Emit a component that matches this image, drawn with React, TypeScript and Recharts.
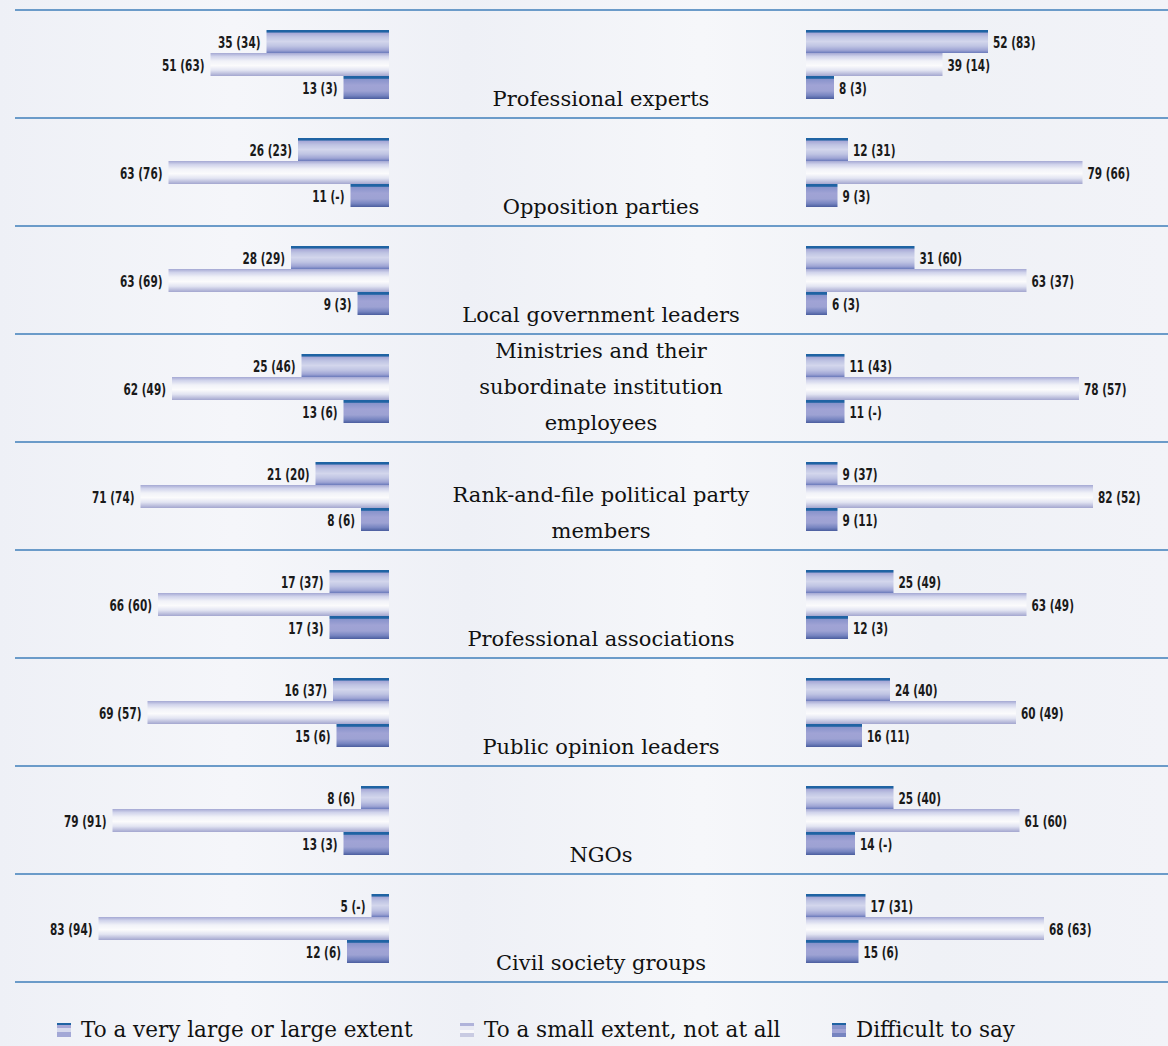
import React from 'react';
import { BarChart, Bar, XAxis, YAxis, LabelList } from 'recharts';

// groups, top to bottom (\n = line break in the centre label)
const groups = [
  'Professional experts',
  'Opposition parties',
  'Local government leaders',
  'Ministries and their\nsubordinate institution\nemployees',
  'Rank-and-file political party\nmembers',
  'Professional associations',
  'Public opinion leaders',
  'NGOs',
  'Civil society groups',
];

// left panel: value and (earlier value) — '-' means no data
const leftLarge = [35, 26, 28, 25, 21, 17, 16, 8, 5];
const leftLargePrev = ['34', '23', '29', '46', '20', '37', '37', '6', '-'];
const leftSmall = [51, 63, 63, 62, 71, 66, 69, 79, 83];
const leftSmallPrev = ['63', '76', '69', '49', '74', '60', '57', '91', '94'];
const leftHard = [13, 11, 9, 13, 8, 17, 15, 13, 12];
const leftHardPrev = ['3', '-', '3', '6', '6', '3', '6', '3', '6'];

// right panel
const rightLarge = [52, 12, 31, 11, 9, 25, 24, 25, 17];
const rightLargePrev = ['83', '31', '60', '43', '37', '49', '40', '40', '31'];
const rightSmall = [39, 79, 63, 78, 82, 63, 60, 61, 68];
const rightSmallPrev = ['14', '66', '37', '57', '52', '49', '49', '60', '63'];
const rightHard = [8, 9, 6, 11, 9, 12, 16, 14, 15];
const rightHardPrev = ['3', '3', '3', '-', '11', '3', '11', '-', '6'];

const seriesNames = ['To a very large or large extent', 'To a small extent, not at all', 'Difficult to say'];

const lbl = (v: number, p: string) => `${v} (${p})`;

const leftRows = groups.map((name, i) => ({
  name,
  a: leftLarge[i], aT: lbl(leftLarge[i], leftLargePrev[i]),
  b: leftSmall[i], bT: lbl(leftSmall[i], leftSmallPrev[i]),
  c: leftHard[i], cT: lbl(leftHard[i], leftHardPrev[i]),
}));
const rightRows = groups.map((name, i) => ({
  name,
  a: rightLarge[i], aT: lbl(rightLarge[i], rightLargePrev[i]),
  b: rightSmall[i], bT: lbl(rightSmall[i], rightSmallPrev[i]),
  c: rightHard[i], cT: lbl(rightHard[i], rightHardPrev[i]),
}));

const W = 1168;
const TOP = 10;
const ROW = 108;
const CHART_H = TOP + ROW * groups.length;
const SPLIT_L = 389;
const SPLIT_R = 806;
const PX_PER_UNIT = 3.5;

const serif = '"DejaVu Serif", "Liberation Serif", serif';

const Gradients = () => (
  <defs>
    <linearGradient id="gLarge" x1="0" y1="0" x2="0" y2="1">
      <stop offset="0%" stopColor="#1f63a3" />
      <stop offset="10%" stopColor="#1f63a3" />
      <stop offset="12%" stopColor="#a4a5d5" />
      <stop offset="30%" stopColor="#bfc4e3" />
      <stop offset="50%" stopColor="#d3d6ec" />
      <stop offset="70%" stopColor="#bfc4e3" />
      <stop offset="88%" stopColor="#9ea4d4" />
      <stop offset="100%" stopColor="#6a7abb" />
    </linearGradient>
    <linearGradient id="gSmall" x1="0" y1="0" x2="0" y2="1">
      <stop offset="0%" stopColor="#a4a8d3" />
      <stop offset="15%" stopColor="#d0d3eb" />
      <stop offset="35%" stopColor="#f1f2f8" />
      <stop offset="55%" stopColor="#fbfbfc" />
      <stop offset="75%" stopColor="#e2e4f2" />
      <stop offset="100%" stopColor="#a3a6cf" />
    </linearGradient>
    <linearGradient id="gHard" x1="0" y1="0" x2="0" y2="1">
      <stop offset="0%" stopColor="#1f63a3" />
      <stop offset="10%" stopColor="#1f63a3" />
      <stop offset="14%" stopColor="#8893cb" />
      <stop offset="40%" stopColor="#a0a3d5" />
      <stop offset="65%" stopColor="#9da2d3" />
      <stop offset="85%" stopColor="#7684c0" />
      <stop offset="100%" stopColor="#4a5d9e" />
    </linearGradient>
  </defs>
);

const CentreTick = (props: any) => {
  const { y, payload } = props;
  const lines = String(payload.value).split('\n');
  const cx = 601; // middle of the gap between the two panels
  const lastY = y + 35;
  return (
    <text x={cx} y={lastY - (lines.length - 1) * 36} textAnchor="middle" dominantBaseline="central"
      fontFamily={serif} fontSize={21} fill="#111">
      {lines.map((ln, i) => (
        <tspan key={i} x={cx} dy={i === 0 ? 0 : 36}>{ln}</tspan>
      ))}
    </text>
  );
};

// condensed value label at the free end of a bar
const valueLabel = (side: 'left' | 'right') => (p: any) => {
  const x = Number(p.x), w = Number(p.width), y = Number(p.y), h = Number(p.height);
  const ex = side === 'left' ? Math.min(x, x + w) - 6 : Math.max(x, x + w) + 5;
  const cy = y + h / 2 + 1;
  return (
    <text transform={`translate(${ex},${cy}) scale(0.7,1)`} textAnchor={side === 'left' ? 'end' : 'start'}
      dominantBaseline="central" fontFamily='"DejaVu Sans", sans-serif' fontSize={15} fontWeight={700} fill="#1a1a1a">
      {p.value}
    </text>
  );
};

const fills = ['url(#gLarge)', 'url(#gSmall)', 'url(#gHard)'];
const legendSwatch = [
  'linear-gradient(#1f63a3 0 15%, #a7a7d6 15% 35%, #d6d9ed 35% 65%, #a3a8d6 65% 100%)',
  'linear-gradient(#b0b3da 0 25%, #e9eaf4 25% 50%, #f7f7fa 50% 75%, #c9cbe2 75% 100%)',
  'linear-gradient(#1f63a3 0 15%, #8893cb 15% 45%, #a0a3d5 45% 75%, #7684c0 75% 100%)',
];

export default function App() {
  const leftMax = (SPLIT_L - 15) / PX_PER_UNIT;
  const rightMax = (W - SPLIT_R) / PX_PER_UNIT;
  return (
    <div style={{
      position: 'absolute', left: 0, top: 0, width: W, height: 1046, overflow: 'hidden',
      background: 'linear-gradient(90deg, #eef0f6 0%, #f5f6fa 20%, #eef0f6 40%, #f6f7fa 60%, #eff1f6 80%, #f2f3f8 100%)',
    }}>
      {/* row separators */}
      {Array.from({ length: groups.length + 1 }).map((_, i) => (
        <div key={i} style={{
          position: 'absolute', left: 15, width: W - 15, top: TOP + i * ROW - 1, height: 2, background: '#6b9bc9',
        }} />
      ))}

      <div style={{ position: 'absolute', left: 0, top: 0 }}>
        <BarChart layout="vertical" width={SPLIT_R} height={CHART_H} data={leftRows}
          margin={{ top: TOP, right: 0, bottom: 0, left: 15 }} barGap={0} barCategoryGap={20}>
          <Gradients />
          <XAxis type="number" hide reversed domain={[0, leftMax]} />
          <YAxis type="category" dataKey="name" orientation="right" width={SPLIT_R - SPLIT_L}
            axisLine={false} tickLine={false} interval={0} tick={<CentreTick />} />
          {(['a', 'b', 'c'] as const).map((k, i) => (
            <Bar key={k} dataKey={k} name={seriesNames[i]} fill={fills[i]} isAnimationActive={false}>
              <LabelList dataKey={`${k}T`} content={valueLabel('left')} />
            </Bar>
          ))}
        </BarChart>
      </div>

      <div style={{ position: 'absolute', left: SPLIT_R, top: 0 }}>
        <BarChart layout="vertical" width={W - SPLIT_R} height={CHART_H} data={rightRows}
          margin={{ top: TOP, right: 0, bottom: 0, left: 0 }} barGap={0} barCategoryGap={20}>
          <Gradients />
          <XAxis type="number" hide domain={[0, rightMax]} />
          <YAxis type="category" dataKey="name" hide />
          {(['a', 'b', 'c'] as const).map((k, i) => (
            <Bar key={k} dataKey={k} name={seriesNames[i]} fill={fills[i]} isAnimationActive={false}>
              <LabelList dataKey={`${k}T`} content={valueLabel('right')} />
            </Bar>
          ))}
        </BarChart>
      </div>

      {/* legend */}
      {seriesNames.map((n, i) => (
        <div key={n} style={{
          position: 'absolute', top: 1017, left: [57, 460, 832][i], display: 'flex', alignItems: 'center',
          fontFamily: serif, fontSize: 21.5, color: '#111', whiteSpace: 'nowrap',
        }}>
          <span style={{ display: 'inline-block', width: 14, height: 14, background: legendSwatch[i], marginRight: 10 }} />
          {n}
        </div>
      ))}
    </div>
  );
}
